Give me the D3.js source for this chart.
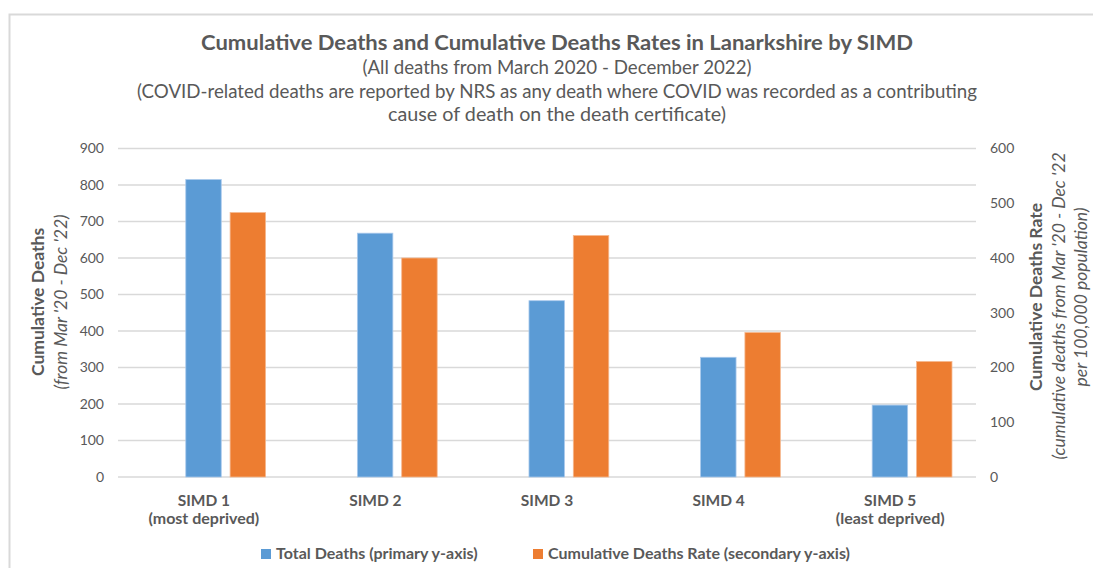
<!DOCTYPE html>
<html>
<head>
<meta charset="utf-8">
<script src="https://cdn.jsdelivr.net/npm/d3@7"></script>
<style>
  html, body { margin: 0; padding: 0; background: #fff; }
  svg { display: block; font-family: Lato, "Open Sans", sans-serif; }
</style>
</head>
<body>
<svg id="chart" width="1093" height="568"></svg>
<script>
// Categories and series
const categories = ["SIMD 1", "SIMD 2", "SIMD 3", "SIMD 4", "SIMD 5"];
const subLabels = ["(most deprived)", "", "", "", "(least deprived)"];
const totalDeaths = [815, 668, 483, 328, 197];
const deathRate = [483, 400, 441, 264, 211];
const leftTicks = [0, 100, 200, 300, 400, 500, 600, 700, 800, 900];
const rightTicks = [0, 100, 200, 300, 400, 500, 600];
const seriesNames = ["Total Deaths (primary y-axis)", "Cumulative Deaths Rate (secondary y-axis)"];
const seriesColors = ["#5b9bd5", "#ed7d31"];

const svg = d3.select("#chart");
const textColor = "#595959";
const gridColor = "#d9d9d9";

// Outer chart frame
svg.append("path")
  .attr("d", "M9.5,568 V14.5 H1093")
  .attr("fill", "none").attr("stroke", gridColor).attr("stroke-width", 2);

const plot = { left: 118, right: 976, top: 148.5, bottom: 477 };

const x = d3.scaleBand().domain(categories).range([plot.left, plot.right]).paddingInner(0).paddingOuter(0);
const inner = d3.scaleBand().domain(["total", "rate"])
  .range([x.bandwidth() * 0.395, x.bandwidth() * 0.86]).paddingInner(0.2);
const yL = d3.scaleLinear().domain([0, 900]).range([plot.bottom, plot.top]);
const yR = d3.scaleLinear().domain([0, 600]).range([plot.bottom, plot.top]);

// Gridlines
svg.append("g")
  .selectAll("line").data(leftTicks).join("line")
  .attr("x1", plot.left).attr("x2", plot.right)
  .attr("y1", d => yL(d)).attr("y2", d => yL(d))
  .attr("stroke", gridColor).attr("stroke-width", 1.5);

// Left axis
const axisL = svg.append("g").attr("transform", `translate(${plot.left},0)`)
  .call(d3.axisLeft(yL).tickValues(leftTicks).tickSize(0).tickPadding(14));
axisL.select(".domain").remove();
axisL.selectAll("text").attr("fill", textColor).style("font-size", "14px").style("font-family", "Lato");

// Right axis
const axisR = svg.append("g").attr("transform", `translate(${plot.right},0)`)
  .call(d3.axisRight(yR).tickValues(rightTicks).tickSize(0).tickPadding(14));
axisR.select(".domain").remove();
axisR.selectAll("text").attr("fill", textColor).style("font-size", "14px").style("font-family", "Lato");

// Bars
const groups = svg.append("g").selectAll("g").data(categories).join("g")
  .attr("transform", d => `translate(${x(d)},0)`);
groups.append("rect")
  .attr("x", inner("total")).attr("width", inner.bandwidth())
  .attr("y", (d, i) => yL(totalDeaths[i]))
  .attr("height", (d, i) => yL(0) - yL(totalDeaths[i]))
  .attr("fill", seriesColors[0]).attr("stroke", "#a9c9ec").attr("stroke-width", 0.8);
groups.append("rect")
  .attr("x", inner("rate")).attr("width", inner.bandwidth())
  .attr("y", (d, i) => yR(deathRate[i]))
  .attr("height", (d, i) => yR(0) - yR(deathRate[i]))
  .attr("fill", seriesColors[1]).attr("stroke", "#f5b88f").attr("stroke-width", 0.8);

// Category labels
svg.append("g").selectAll("text").data(categories).join("text")
  .attr("x", d => x(d) + x.bandwidth() / 2)
  .attr("y", 506)
  .attr("text-anchor", "middle").attr("fill", textColor)
  .style("font-size", "15.5px").style("font-weight", "bold")
  .text(d => d);
svg.append("g").selectAll("text").data(categories).join("text")
  .attr("x", d => x(d) + x.bandwidth() / 2)
  .attr("y", 524)
  .attr("text-anchor", "middle").attr("fill", textColor)
  .style("font-size", "16px").style("font-weight", "bold")
  .text((d, i) => subLabels[i]);

// Title block
const titleLines = [
  { t: "Cumulative Deaths and Cumulative Deaths Rates in Lanarkshire by SIMD", y: 50, s: 21, w: "bold", len: 712 },
  { t: "(All deaths from March 2020 - December 2022)", y: 74, s: 18.5, w: "normal", len: 389 },
  { t: "(COVID-related deaths are reported by NRS as any death where COVID was recorded as a contributing", y: 98, s: 18.5, w: "normal", len: 840 },
  { t: "cause of death on the death certificate)", y: 121, s: 18.5, w: "normal", len: 338 }
];
svg.append("g").selectAll("text").data(titleLines).join("text")
  .attr("x", 557).attr("y", d => d.y).attr("text-anchor", "middle")
  .attr("textLength", d => d.len).attr("lengthAdjust", "spacingAndGlyphs")
  .attr("fill", textColor).style("font-size", d => d.s + "px").style("font-weight", d => d.w)
  .text(d => d.t);

// Left axis title
const lt = svg.append("text").attr("transform", "translate(44,302) rotate(-90)")
  .attr("text-anchor", "middle").attr("fill", textColor).style("font-size", "17.5px");
lt.append("tspan").attr("x", 0).attr("dy", 0).style("font-weight", "bold").text("Cumulative Deaths");
lt.append("tspan").attr("x", 0).attr("dy", 23).style("font-style", "italic").text("(from Mar '20 - Dec '22)");

// Right axis title
const rt = svg.append("text").attr("transform", "translate(1042,297) rotate(-90)")
  .attr("text-anchor", "middle").attr("fill", textColor).style("font-size", "17.5px");
rt.append("tspan").attr("x", 0).attr("dy", 0).style("font-weight", "bold").text("Cumulative Deaths Rate");
rt.append("tspan").attr("x", -9).attr("dy", 23).style("font-style", "italic").text("(cumulative deaths from Mar '20 - Dec '22");
rt.append("tspan").attr("x", 0).attr("dy", 22).style("font-style", "italic").text("per 100,000 population)");

// Legend
const legendX = [261, 533];
const lg = svg.append("g").selectAll("g").data(seriesNames).join("g")
  .attr("transform", (d, i) => `translate(${legendX[i]},549)`);
lg.append("rect").attr("width", 10).attr("height", 10).attr("fill", (d, i) => seriesColors[i]);
lg.append("text").attr("x", 15).attr("y", 10).attr("fill", textColor)
  .style("font-size", "16px").style("font-weight", "bold").text(d => d);
</script>
</body>
</html>
